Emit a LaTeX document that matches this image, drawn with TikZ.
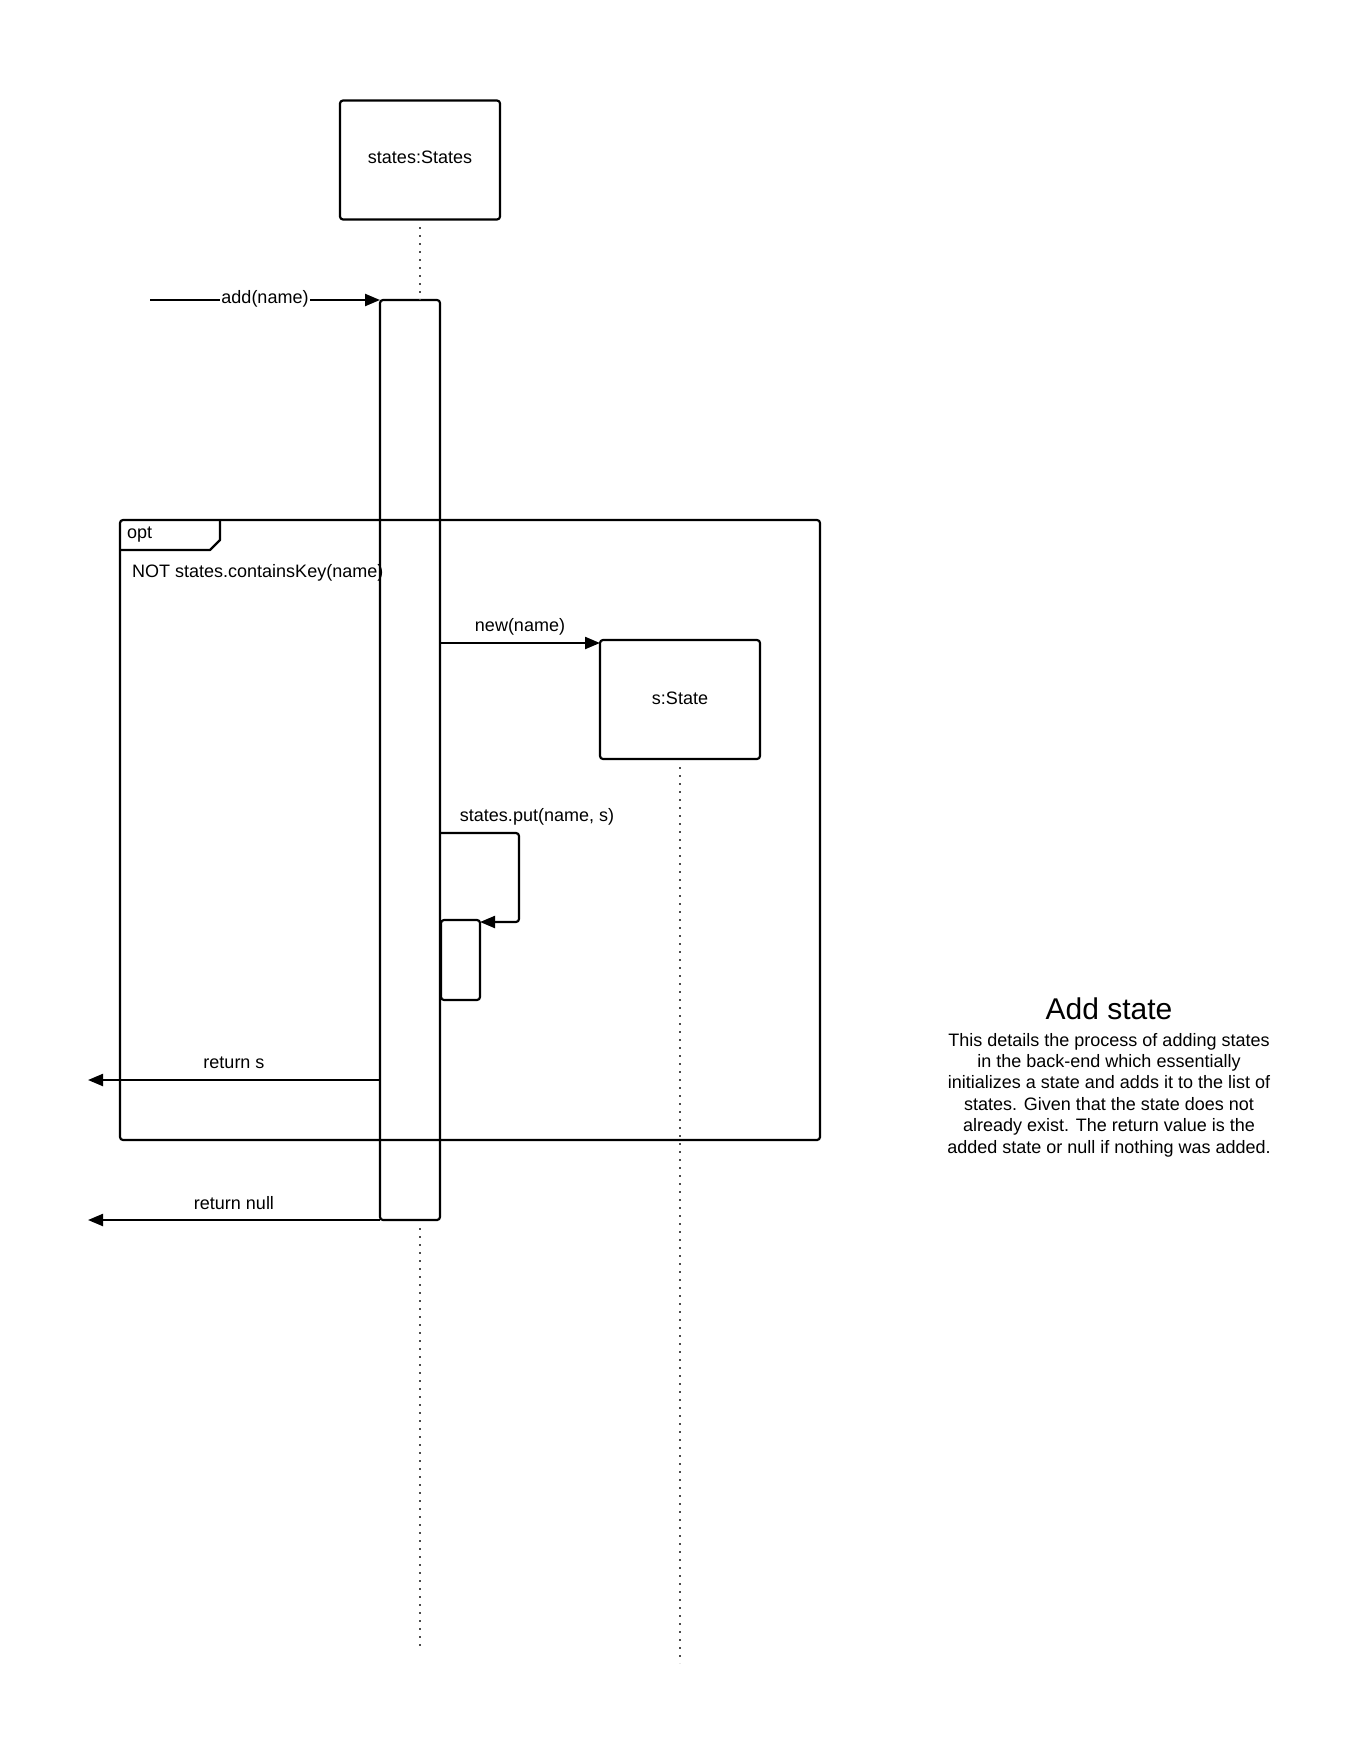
\documentclass[tikz,border=0pt]{standalone}
\usepackage{fontspec}
\setmainfont{Liberation Sans}
\usetikzlibrary{arrows.meta,calc}
\begin{document}
\begin{tikzpicture}[x=1pt,y=-1pt,
  stroke/.style={line width=2.2pt,line join=round},
  msg/.style={stroke,-{Triangle[length=15pt,width=12pt]}},
  lbl/.style={font=\fontsize{18}{21.4}\selectfont,inner sep=0pt},
  obj/.style={draw,stroke,rounded corners=3pt,minimum width=160pt,minimum height=119pt,
    outer sep=0pt,font=\fontsize{18}{21.4}\selectfont},
  bar/.style={draw,stroke,rounded corners=3pt,anchor=north west,inner sep=0pt,outer sep=0pt},
  life/.style={line width=1.8pt,dash pattern=on 2pt off 6pt,black!70}
]
\useasboundingbox[fill=white] (0,0) rectangle (1360,1760);

% combined fragment
\node[bar,minimum width=700pt,minimum height=620pt] (opt) at (120,520) {};
\draw[stroke] ($(opt.north west)+(0,30)$) -- +(90,0) -- +(100,-10) -- +(100,-30);
\node[lbl,anchor=west] (optname) at (127,535) {opt};
\node[lbl,anchor=west] (guard) at (132,573) {NOT states.containsKey(name)};

% participants
\node[obj] (states) at (420,160) {};
\node[lbl] (statesname) at (420,157) {states:States};
\node[obj] (sobj) at (680,699.5) {};
\node[lbl] (sname) at (680,698) {s:State};

% activations
\node[bar,minimum width=60pt,minimum height=920pt] (act) at (380,300) {};
\node[bar,minimum width=39pt,minimum height=80pt] (self) at (441,920) {};

% lifelines
\coordinate (end1) at (420,1650);
\coordinate (end2) at (680,1663);
\draw[life] ([yshift=-8pt]states.south) -- (states.south |- act.north);
\draw[life] ([yshift=-8pt]states.south |- act.south) -- (end1);
\draw[life] ([yshift=-8pt]sobj.south) -- (end2);

% messages
\coordinate (caller) at (150,300);
\draw[msg] (caller) -- (act.north west)
  node[lbl,midway,fill=white,inner xsep=1pt,yshift=1.5pt] {add(name)};
\draw[msg] (act.east |- 0,643) -- (sobj.west |- 0,643)
  node[lbl,midway,yshift=16pt] {new(name)};
\draw[msg,rounded corners=3pt] (act.east |- 0,833) -- (519,833) -- (519,922) -- ([yshift=-2pt]self.north east);
\node[lbl] (putlbl) at (537,817) {states.put(name, s)};

\coordinate (ret1) at (88,1080);
\coordinate (ret2) at (88,1220);
\draw[msg] (act.west |- ret1) -- (ret1)
  node[lbl,midway,yshift=17pt] {return s};
\draw[msg] (act.south west) -- (ret2)
  node[lbl,midway,yshift=17pt] {return null};

% note
\node[anchor=base,inner sep=0pt,font=\fontsize{30}{36}\selectfont] (title) at (1109,1019) {Add state};
\node[lbl,anchor=base,align=center] (desc) at (1109,1153) {This details the process of adding states\\
in the back-end which essentially\\
initializes a state and adds it to the list of\\
states. Given that the state does not\\
already exist. The return value is the\\
added state or null if nothing was added.};
\end{tikzpicture}
\end{document}
